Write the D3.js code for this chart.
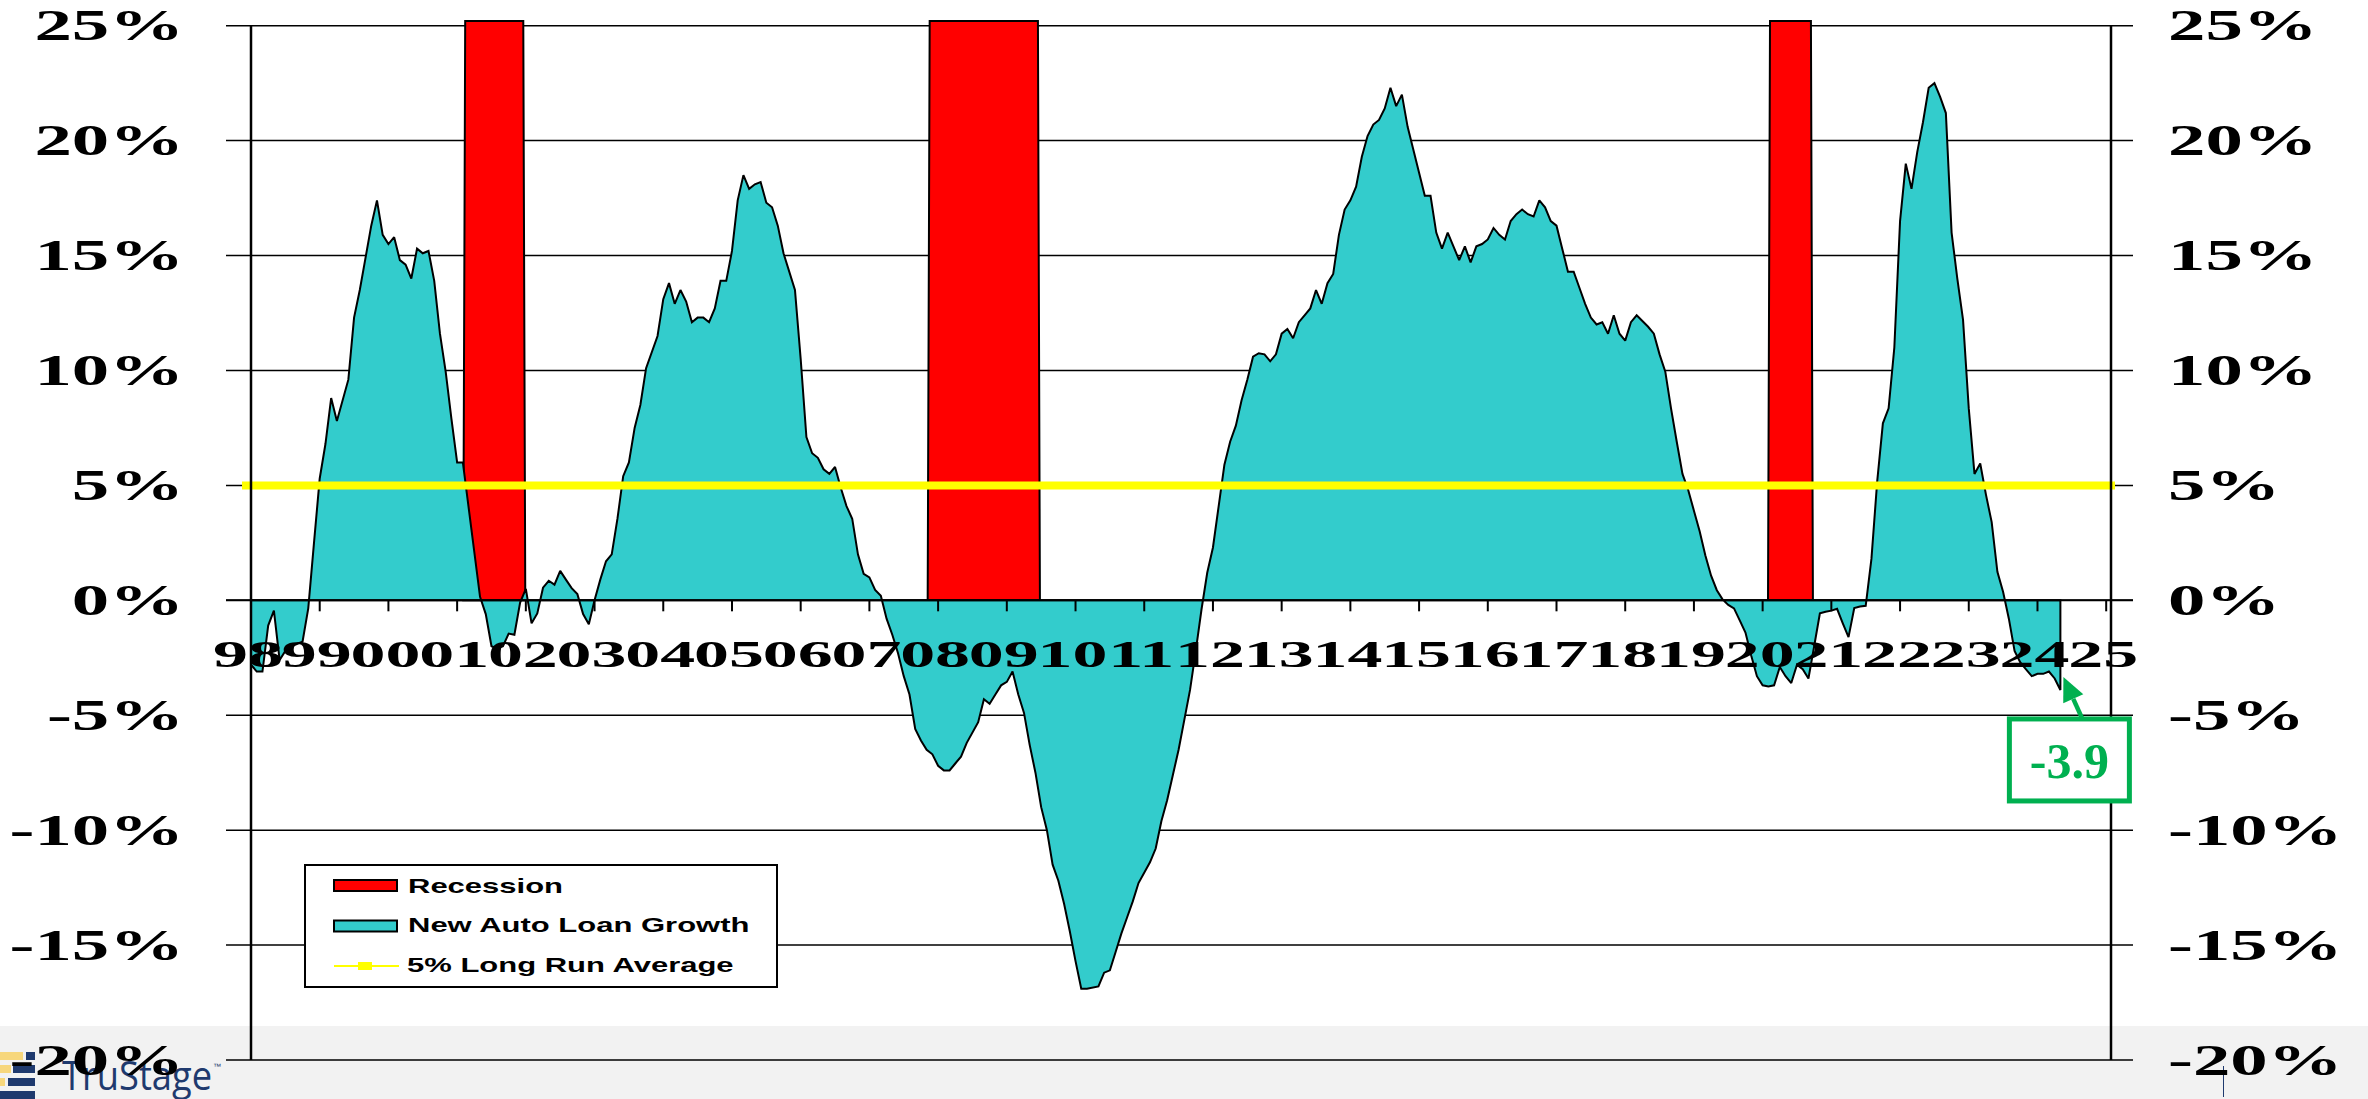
<!DOCTYPE html>
<html><head><meta charset="utf-8">
<script src="https://cdn.jsdelivr.net/npm/d3@7"></script>
<style>
html,body{margin:0;padding:0;background:#fff;}
svg{display:block;}
</style></head>
<body>
<svg id="chart" width="2368" height="1099"></svg>
<script>
// ---------------- DATA ----------------
const months = [
 "1998-01","1998-02","1998-03","1998-04","1998-05","1998-06","1998-07","1998-08","1998-09","1998-10","1998-11","1998-12",
 "1999-01","1999-02","1999-03","1999-04","1999-06","1999-07","1999-08","1999-09","1999-10","1999-11","1999-12",
 "2000-01","2000-02","2000-03","2000-04","2000-05","2000-06","2000-07","2000-08","2000-09","2000-10","2000-11","2000-12",
 "2001-01","2001-02","2001-05","2001-06","2001-07","2001-08","2001-09","2001-10","2001-11","2001-12",
 "2002-01","2002-02","2002-03","2002-04","2002-05","2002-06","2002-07","2002-08","2002-09","2002-10","2002-11","2002-12",
 "2003-01","2003-02","2003-03","2003-04","2003-05","2003-06","2003-07","2003-08","2003-09","2003-10","2003-12",
 "2004-01","2004-02","2004-03","2004-04","2004-05","2004-06","2004-07","2004-08","2004-09","2004-10","2004-11","2004-12",
 "2005-01","2005-02","2005-03","2005-04","2005-05","2005-06","2005-07","2005-08","2005-09","2005-10","2005-12",
 "2006-01","2006-02","2006-03","2006-04","2006-05","2006-06","2006-07","2006-08","2006-09","2006-10","2006-11","2006-12",
 "2007-01","2007-02","2007-03","2007-04","2007-05","2007-06","2007-07","2007-08","2007-09","2007-10","2007-11","2007-12",
 "2008-01","2008-02","2008-03","2008-04","2008-05","2008-06","2008-08","2008-09","2008-10","2008-11","2008-12",
 "2009-01","2009-02","2009-03","2009-04","2009-05","2009-06","2009-07","2009-08","2009-09","2009-10","2009-11","2009-12",
 "2010-01","2010-02","2010-03","2010-05","2010-06","2010-07","2010-08","2010-09","2010-10","2010-11","2010-12",
 "2011-02","2011-03","2011-04","2011-05","2011-06","2011-07","2011-08","2011-09","2011-10","2011-11","2011-12",
 "2012-01","2012-02","2012-03","2012-04","2012-05","2012-06","2012-07","2012-08","2012-09","2012-10","2012-11","2012-12",
 "2013-01","2013-02","2013-03","2013-04","2013-05","2013-06","2013-07","2013-08","2013-09","2013-10","2013-11","2013-12",
 "2014-01","2014-02","2014-03","2014-04","2014-05","2014-06","2014-07","2014-08","2014-09","2014-10","2014-11","2014-12",
 "2015-01","2015-02","2015-03","2015-04","2015-05","2015-06","2015-07","2015-08","2015-09","2015-10","2015-11","2015-12",
 "2016-01","2016-02","2016-03","2016-04","2016-05","2016-06","2016-07","2016-08","2016-09","2016-10","2016-11","2016-12",
 "2017-01","2017-02","2017-03","2017-04","2017-05","2017-06","2017-07","2017-08","2017-09","2017-10","2017-11","2017-12",
 "2018-01","2018-02","2018-03","2018-05","2018-06","2018-07","2018-08","2018-09","2018-10","2018-11","2018-12",
 "2019-01","2019-02","2019-03","2019-04","2019-05","2019-06","2019-07","2019-08","2019-09","2019-10","2019-11","2019-12",
 "2020-01","2020-02","2020-03","2020-04","2020-05","2020-06","2020-07","2020-08","2020-09","2020-10","2020-11","2020-12",
 "2021-01","2021-02","2021-03","2021-04","2021-05","2021-06","2021-07","2021-08","2021-09","2021-10","2021-11","2021-12",
 "2022-01","2022-02","2022-03","2022-04","2022-05","2022-06","2022-07","2022-08","2022-09","2022-10","2022-11","2022-12",
 "2023-01","2023-02","2023-03","2023-04","2023-05","2023-06","2023-07","2023-08","2023-09","2023-10","2023-11","2023-12",
 "2024-01","2024-02","2024-03","2024-04","2024-05"
];
const growth = [
 -2.8,-3.1,-3.1,-1.1,-0.45,-2.6,-2.2,-2.0,-1.9,-1.8,-0.35,2.5,
 5.3,6.8,8.8,7.8,9.6,12.3,13.5,14.9,16.3,17.4,15.9,
 15.5,15.8,14.8,14.6,14.0,15.3,15.1,15.2,13.9,11.6,9.95,7.9,
 6.0,6.0,0.15,-0.6,-2.0,-2.1,-2.0,-1.45,-1.5,-0.1,
 0.5,-1.0,-0.57,0.55,0.85,0.68,1.28,0.9,0.53,0.27,-0.6,-1.04,
 0.0,0.9,1.7,2.0,3.55,5.4,6.0,7.5,8.5,10.1,11.5,
 13.1,13.8,12.9,13.5,13.0,12.1,12.3,12.3,12.1,12.7,13.9,13.9,
 15.2,17.4,18.5,17.9,18.1,18.2,17.3,17.1,16.3,15.1,13.5,
 10.5,7.1,6.4,6.2,5.7,5.5,5.8,4.9,4.1,3.55,2.0,1.15,
 1.0,0.45,0.2,-0.8,-1.5,-2.3,-3.3,-4.1,-5.6,-6.1,-6.5,-6.7,
 -7.2,-7.4,-7.4,-7.1,-6.8,-6.2,-5.3,-4.3,-4.5,-4.1,-3.7,
 -3.55,-3.1,-4.1,-4.9,-6.3,-7.5,-9.0,-10.0,-11.5,-12.2,-13.2,-14.4,
 -15.7,-16.9,-16.9,-16.8,-16.2,-16.1,-15.3,-14.5,-13.8,-13.1,-12.3,
 -11.4,-10.8,-9.6,-8.7,-7.6,-6.5,-5.2,-3.9,-2.2,-0.4,1.2,
 2.3,4.1,5.9,6.9,7.6,8.7,9.6,10.6,10.75,10.7,10.4,10.7,
 11.6,11.8,11.4,12.1,12.4,12.7,13.5,12.9,13.8,14.2,15.9,17.0,
 17.4,18.0,19.3,20.2,20.7,20.9,21.4,22.3,21.5,22.0,20.6,19.6,
 18.6,17.6,17.6,16.0,15.3,16.0,15.4,14.8,15.4,14.7,15.4,15.5,
 15.7,16.2,15.9,15.7,16.5,16.8,17.0,16.8,16.7,17.4,17.1,16.5,
 16.3,15.3,14.3,14.3,13.6,12.9,12.3,12.0,12.1,11.6,12.4,11.6,
 11.3,12.1,12.4,11.9,11.6,10.7,9.95,8.35,6.9,5.5,4.8,
 3.9,3.0,1.95,1.07,0.44,0.04,-0.2,-0.35,-0.87,-1.4,-2.4,-3.3,
 -3.7,-3.75,-3.7,-2.9,-3.3,-3.6,-2.8,-3.0,-3.4,-2.0,-0.57,-0.5,
 -0.45,-0.37,-1.0,-1.6,-0.34,-0.27,-0.24,1.8,5.15,7.7,8.35,11.0,
 16.5,19.0,17.9,19.5,20.8,22.3,22.5,21.9,21.2,16.0,14.0,12.2,
 8.35,5.5,5.95,4.6,3.4,1.24,0.36,-0.8,-2.2,-2.7,-3.0,-3.3,
 -3.2,-3.2,-3.1,-3.4,-3.9
];
// recession periods (decimal years)
const recessionStart = [2001.11, 2007.87, 2020.10];
const recessionEnd   = [2001.97, 2009.46, 2020.71];
const recessionLevel = 25.2;
const longRunAverage = 5;
const yTicks = [25, 20, 15, 10, 5, 0, -5, -10, -15, -20];
const xLabels = ["98","99","00","01","02","03","04","05","06","07","08","09","10","11","12","13","14","15","16","17","18","19","20","21","22","23","24","25"];
const firstYear = 1998;
const legendLabels = ["Recession", "New Auto Loan Growth", "5% Long Run Average"];
const calloutText = "-3.9";

// ---------------- CHART ----------------
const W = 2368, H = 1099;
const svg = d3.select('#chart');
const toYear = s => { const [yy, mm] = s.split('-').map(Number); return yy + (mm - 1) / 12; };
const data = months.map((m, i) => ({ t: toYear(m), v: growth[i] }));

const x = d3.scaleLinear().domain([1998, 2025.07]).range([251, 2111]);
const y = d3.scaleLinear().domain([-20, 25]).range([1060, 25.7]);
const [xl, xr] = x.range();
const serif = "'Liberation Serif','Times New Roman',Times,serif";
const sans = "'Liberation Sans',Arial,Helvetica,sans-serif";

// footer band
svg.append('rect').attr('x', 0).attr('y', 1026).attr('width', W).attr('height', H - 1026).attr('fill', '#f2f2f2');

// logo
const logo = svg.append('g');
const navy = '#1f3a6e', gold = '#f7d77c';
[[0,1052,23,8,gold],[26,1052,9,8,navy],
 [0,1065,11,8,gold],[13,1065,22,8,navy],
 [0,1078,5,8,gold],[8,1078,27,8,navy],
 [0,1091,35,8,navy]].forEach(r => logo.append('rect').attr('x', r[0]).attr('y', r[1]).attr('width', r[2]).attr('height', r[3]).attr('fill', r[4]));
logo.append('text').attr('x', 62).attr('y', 1090).attr('font-family', "'Open Sans',sans-serif").attr('font-size', 40)
  .attr('textLength', 150).attr('lengthAdjust', 'spacingAndGlyphs').attr('fill', navy).text('TruStage');
logo.append('text').attr('x', 213).attr('y', 1069).attr('font-family', sans).attr('font-size', 8).attr('fill', navy).text('™');
svg.append('line').attr('x1', 2223.5).attr('x2', 2223.5).attr('y1', 1066).attr('y2', 1097).attr('stroke', navy).attr('stroke-width', 1);

// gridlines (with outside tick stubs)
svg.append('g').selectAll('line').data(yTicks).join('line')
  .attr('x1', xl - 25).attr('x2', xr + 22)
  .attr('y1', d => y(d)).attr('y2', d => y(d))
  .attr('stroke', '#000').attr('stroke-width', 1.5);

// recession bars
const recG = svg.append('g');
recessionStart.forEach((s, i) => {
  const e = recessionEnd[i];
  const pts = [[x(s) - 1.5, y(0)], [x(s) + 0.5, y(recessionLevel)], [x(e) - 0.5, y(recessionLevel)], [x(e) + 1.5, y(0)]];
  recG.append('polygon').attr('points', pts.map(p => p.join(',')).join(' '))
    .attr('fill', '#ff0000').attr('stroke', '#000').attr('stroke-width', 2);
});

// growth area
const area = d3.area().x(d => x(d.t)).y0(y(0)).y1(d => y(d.v));
svg.append('path').datum(data).attr('d', area)
  .attr('fill', '#33cccc').attr('stroke', '#000').attr('stroke-width', 2)
  .attr('stroke-linejoin', 'miter').attr('stroke-miterlimit', 2);

// long run average
svg.append('line').attr('x1', xl - 9).attr('x2', xr + 4)
  .attr('y1', y(longRunAverage)).attr('y2', y(longRunAverage))
  .attr('stroke', '#ffff00').attr('stroke-width', 8);

// axes
svg.append('line').attr('x1', xl - 25).attr('x2', xr + 22).attr('y1', y(0)).attr('y2', y(0)).attr('stroke', '#000').attr('stroke-width', 2);
[xl, xr].forEach(xx => svg.append('line').attr('x1', xx).attr('x2', xx).attr('y1', y(25)).attr('y2', y(-20)).attr('stroke', '#000').attr('stroke-width', 2.5));
svg.append('g').selectAll('line').data(xLabels.slice(1)).join('line')
  .attr('x1', (d, i) => x(firstYear + i + 1)).attr('x2', (d, i) => x(firstYear + i + 1))
  .attr('y1', y(0)).attr('y2', y(0) + 11).attr('stroke', '#000').attr('stroke-width', 2);

// x labels
svg.append('g').selectAll('text').data(xLabels).join('text')
  .attr('transform', (d, i) => `translate(${x(firstYear + i) - 3},667) scale(1.84,1)`)
  .attr('text-anchor', 'middle').attr('font-family', serif).attr('font-weight', 'bold')
  .attr('font-size', 38).attr('fill', '#000').text(d => d);

// y labels (both sides)
const yl = svg.append('g');
yl.selectAll('text.l').data(yTicks).join('text').attr('class', 'l')
  .attr('transform', d => `translate(${xl - 67},${y(d) + 14.5}) scale(1.7,1)`)
  .attr('text-anchor', 'end').attr('font-family', serif).attr('font-weight', 'bold')
  .attr('font-size', 44).text(d => d + '%');
yl.selectAll('text.r').data(yTicks).join('text').attr('class', 'r')
  .attr('transform', d => `translate(${xr + 57},${y(d) + 14.5}) scale(1.7,1)`)
  .attr('text-anchor', 'start').attr('font-family', serif).attr('font-weight', 'bold')
  .attr('font-size', 44).text(d => d + '%');

// legend
const lg = svg.append('g');
lg.append('rect').attr('x', 305).attr('y', 865).attr('width', 472).attr('height', 122)
  .attr('fill', '#fff').attr('stroke', '#000').attr('stroke-width', 2);
lg.append('rect').attr('x', 334).attr('y', 880).attr('width', 63).attr('height', 11).attr('fill', '#ff0000').attr('stroke', '#000').attr('stroke-width', 2);
lg.append('rect').attr('x', 334).attr('y', 920.5).attr('width', 63).attr('height', 11).attr('fill', '#33cccc').attr('stroke', '#000').attr('stroke-width', 2);
lg.append('line').attr('x1', 334).attr('x2', 399).attr('y1', 966).attr('y2', 966).attr('stroke', '#ffff00').attr('stroke-width', 2);
lg.append('rect').attr('x', 358).attr('y', 962).attr('width', 14).attr('height', 8).attr('fill', '#ffff00');
const legY = [892.5, 931.5, 971.5];
legendLabels.forEach((t, i) => {
  lg.append('text').attr('transform', `translate(${i === 2 ? 407 : 408},${legY[i]}) scale(1.55,1)`)
    .attr('font-family', sans).attr('font-weight', 'bold').attr('font-size', 20).attr('fill', '#000').text(t);
});

// callout for last value
const last = data[data.length - 1];
const tip = [x(last.t) + 3, y(last.v) - 13];
const boxX = x(last.t) - 51, boxY = y(last.v) + 29;
const co = svg.append('g');
co.append('rect').attr('x', boxX).attr('y', boxY).attr('width', 120).attr('height', 82)
  .attr('fill', '#fff').attr('stroke', '#00b050').attr('stroke-width', 5);
co.append('text').attr('x', boxX + 60).attr('y', boxY + 59).attr('text-anchor', 'middle')
  .attr('font-family', serif).attr('font-weight', 'bold').attr('font-size', 50)
  .attr('fill', '#00b050').text(calloutText);
const start = [boxX + 73, boxY];
const dx = tip[0] - start[0], dy = tip[1] - start[1], len = Math.hypot(dx, dy);
const ux = dx / len, uy = dy / len, px = -uy, py = ux;
const baseC = [tip[0] - 24 * ux, tip[1] - 24 * uy];
co.append('line').attr('x1', start[0]).attr('y1', start[1]).attr('x2', baseC[0]).attr('y2', baseC[1])
  .attr('stroke', '#00b050').attr('stroke-width', 4.5);
co.append('polygon').attr('points', [tip, [baseC[0] + 11 * px, baseC[1] + 11 * py], [baseC[0] - 11 * px, baseC[1] - 11 * py]].map(p => p.join(',')).join(' '))
  .attr('fill', '#00b050');
</script>
</body></html>
